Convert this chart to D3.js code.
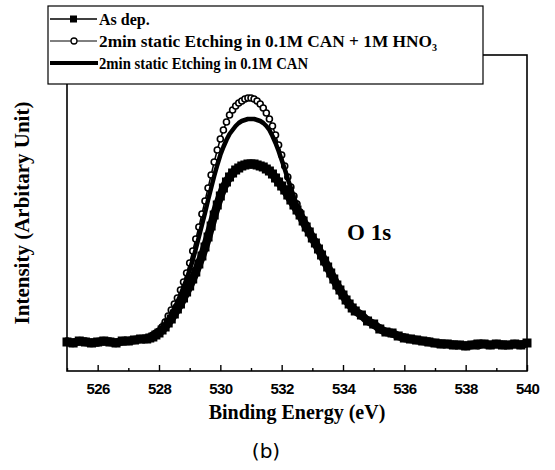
<!DOCTYPE html>
<html>
<head>
<meta charset="utf-8">
<script src="https://cdn.jsdelivr.net/npm/d3@7/dist/d3.min.js"></script>
<style>
  body { margin: 0; background: #fff; }
  svg { display: block; }
  .serif { font-family: "Liberation Serif", "Times New Roman", serif; font-weight: bold; }
</style>
</head>
<body>
<div id="chartContainer"></div>
<script>
// binding energy (eV), coarse on the tails, finer across the peak
var energy = [525.0, 525.2, 525.4, 525.6, 525.8, 526.0, 526.2, 526.4, 526.6, 526.8, 527.0, 527.2, 527.4,
    527.6, 527.7, 527.8, 527.9, 528.0, 528.1, 528.2, 528.3, 528.4, 528.5, 528.6, 528.7, 528.8, 528.9,
    529.0, 529.1, 529.2, 529.3, 529.4, 529.5, 529.6, 529.7, 529.8, 529.9, 530.0, 530.1, 530.2, 530.3,
    530.4, 530.5, 530.6, 530.7, 530.8, 530.9, 531.0, 531.1, 531.2, 531.3, 531.4, 531.5, 531.6, 531.7,
    531.8, 531.9, 532.0, 532.1, 532.2, 532.3, 532.4, 532.5, 532.6, 532.7, 532.8, 532.9, 533.0, 533.1,
    533.2, 533.3, 533.4, 533.5, 533.6, 533.7, 533.8, 533.9, 534.0, 534.1, 534.2, 534.3, 534.4,
    534.6, 534.8, 535.0, 535.2, 535.4, 535.6, 535.8, 536.0, 536.2, 536.4, 536.6, 536.8, 537.0, 537.2,
    537.4, 537.6, 537.8, 538.0, 538.2, 538.4, 538.6, 538.8, 539.0, 539.2, 539.4, 539.6, 539.8, 540.0];

// intensity (arbitrary units)
var asDep = [29, 28, 30, 29, 28, 29, 30, 29, 28, 30, 30, 31, 32,
    32, 33, 34, 36, 38, 41, 44, 48, 52, 57, 62, 67, 73, 79,
    85, 92, 99, 107, 115, 124, 134, 145, 156, 166, 175, 183, 189, 194,
    198, 201, 203, 205, 206, 207, 207, 207, 206, 205, 204, 202, 200, 197,
    193, 189, 185, 181, 176, 171, 166, 161, 156, 150, 144, 139, 133, 128,
    122, 116, 110, 104, 98, 92, 86, 81, 76, 71, 67, 63, 60,
    56, 50, 47, 42, 39, 38, 35, 33, 32, 31, 30, 29, 28, 27,
    27, 26, 26, 25, 26, 27, 27, 26, 27, 26, 26, 27, 26, 28];

var canHno3 = [30, 29, 29, 30, 29, 28, 29, 30, 29, 29, 30, 31, 32,
    33, 34, 36, 38, 40, 44, 49, 55, 61, 67, 73, 81, 89, 98,
    108, 120, 132, 144, 157, 170, 183, 196, 209, 221, 232, 241, 249, 256,
    261, 265, 268, 270, 272, 273, 273, 272, 270, 267, 263, 258, 252, 245,
    236, 226, 216, 205, 194, 184, 175, 167, 159, 152, 146, 140, 134, 129,
    123, 117, 111, 105, 99, 93, 87, 82, 77, 72, 68, 64, 61,
    55, 51, 46, 43, 39, 37, 35, 34, 32, 31, 30, 30, 28, 28,
    27, 27, 26, 26, 26, 25, 27, 26, 27, 27, 26, 27, 27, 28];

var can = [29, 29, 30, 29, 29, 29, 29, 30, 30, 30, 31, 31, 33,
    32, 33, 35, 37, 39, 42, 46, 51, 57, 63, 69, 76, 84, 92,
    101, 111, 122, 134, 146, 158, 171, 183, 195, 206, 216, 224, 231, 237,
    241, 245, 248, 250, 251, 252, 252, 252, 251, 250, 248, 245, 241, 235,
    228, 220, 211, 202, 192, 183, 174, 166, 158, 151, 145, 139, 133, 128,
    122, 116, 110, 104, 98, 92, 86, 81, 76, 71, 67, 63, 60,
    55, 50, 46, 42, 40, 37, 35, 33, 32, 31, 31, 29, 28, 28,
    27, 27, 26, 26, 26, 26, 27, 26, 26, 27, 26, 27, 27, 28];

var legendLabels = ["As dep.", "2min static Etching in 0.1M CAN + 1M HNO", "2min static Etching in 0.1M CAN"];
var majorTicks = [526, 528, 530, 532, 534, 536, 538, 540];
var minorTicks = [525, 527, 529, 531, 533, 535, 537, 539];

var W = 555, H = 470;
var plotL = 67, plotR = 527, plotT = 55, plotB = 371;

var svg = d3.select("#chartContainer").append("svg")
    .attr("width", W).attr("height", H);

var x = d3.scaleLinear().domain([525, 540]).range([plotL, plotR]);
var y = d3.scaleLinear().domain([0, 316]).range([plotB, plotT]);

function pts(vals){
    return energy.map(function(e, i){ return [e, vals[i]]; });
}

var line = d3.line()
    .x(function(d){ return x(d[0]); })
    .y(function(d){ return y(d[1]); });

// frame
svg.append("rect")
    .attr("x", plotL).attr("y", plotT)
    .attr("width", plotR - plotL).attr("height", plotB - plotT)
    .attr("fill", "none").attr("stroke", "#000").attr("stroke-width", 1.6);

// x axis, ticks pointing inward
var gMaj = svg.append("g").attr("transform", "translate(0," + plotB + ")")
    .call(d3.axisBottom(x).tickValues(majorTicks).tickSize(-6).tickPadding(12).tickFormat(d3.format("d")));
var gMin = svg.append("g").attr("transform", "translate(0," + plotB + ")")
    .call(d3.axisBottom(x).tickValues(minorTicks).tickSize(-3).tickFormat(""));
[gMaj, gMin].forEach(function(g){
    g.select(".domain").remove();
    g.selectAll("line").attr("stroke", "#000").attr("stroke-width", 1.4);
});
gMaj.selectAll("text")
    .attr("fill", "#000")
    .style("font-family", "'Liberation Sans', Arial, sans-serif")
    .style("font-weight", "bold")
    .style("font-size", "15px")
    .style("letter-spacing", "-0.6px");

// CAN + HNO3: open circles (underneath, they show where the curves part)
svg.append("path").datum(pts(canHno3))
    .attr("d", line).attr("fill", "none")
    .attr("stroke", "#000").attr("stroke-width", 1.5);
svg.append("g").selectAll("circle").data(pts(canHno3)).enter().append("circle")
    .attr("cx", function(d){ return x(d[0]); })
    .attr("cy", function(d){ return y(d[1]); })
    .attr("r", 3)
    .attr("fill", "#fff").attr("stroke", "#000").attr("stroke-width", 1.6);

// as deposited: filled squares on a heavy line
svg.append("path").datum(pts(asDep))
    .attr("d", line).attr("fill", "none")
    .attr("stroke", "#000").attr("stroke-width", 8.5)
    .attr("stroke-linejoin", "round");
svg.append("g").selectAll("rect").data(pts(asDep)).enter().append("rect")
    .attr("x", function(d){ return x(d[0]) - 4.5; })
    .attr("y", function(d){ return y(d[1]) - 4.5; })
    .attr("width", 9).attr("height", 9)
    .attr("fill", "#000");

// CAN only: thick line
svg.append("path").datum(pts(can))
    .attr("d", line).attr("fill", "none")
    .attr("stroke", "#000").attr("stroke-width", 4.5)
    .attr("stroke-linejoin", "round");

svg.append("text").attr("class", "serif")
    .attr("x", 347).attr("y", 240)
    .style("font-size", "23px")
    .text("O 1s");

// legend box sits on top of the frame
var lg = svg.append("g");
lg.append("rect")
    .attr("x", 48).attr("y", 6).attr("width", 435).attr("height", 78)
    .attr("fill", "#fff").attr("stroke", "#000").attr("stroke-width", 1.2);

var rowY = [19, 41, 63];
var rowSize = [16, 17.3, 16];
lg.append("line").attr("x1", 50).attr("x2", 97).attr("y1", rowY[0]).attr("y2", rowY[0])
    .attr("stroke", "#000").attr("stroke-width", 1.3);
lg.append("rect").attr("x", 70).attr("y", rowY[0] - 3.5).attr("width", 7).attr("height", 7).attr("fill", "#000");
lg.append("line").attr("x1", 50).attr("x2", 97).attr("y1", rowY[1]).attr("y2", rowY[1])
    .attr("stroke", "#000").attr("stroke-width", 1);
lg.append("circle").attr("cx", 74).attr("cy", rowY[1]).attr("r", 3)
    .attr("fill", "#fff").attr("stroke", "#000").attr("stroke-width", 1.3);
lg.append("line").attr("x1", 50).attr("x2", 98).attr("y1", rowY[2]).attr("y2", rowY[2])
    .attr("stroke", "#000").attr("stroke-width", 4);

legendLabels.forEach(function(t, i){
    var tx = lg.append("text").attr("class", "serif")
        .attr("x", 99).attr("y", rowY[i]).attr("dy", "0.35em")
        .style("font-size", rowSize[i] + "px")
        .text(t);
    if(i == 1){
        tx.append("tspan").attr("dy", "4").style("font-size", "10px").text("3");
    }
    if(i == 2){
        // the last row is set tighter in the original
        tx.attr("textLength", 209).attr("lengthAdjust", "spacingAndGlyphs");
    }
});

// axis titles
svg.append("text").attr("class", "serif")
    .attr("x", 297).attr("y", 419).attr("text-anchor", "middle")
    .style("font-size", "20px")
    .text("Binding Energy (eV)");

svg.append("text").attr("class", "serif")
    .attr("transform", "translate(29,213) rotate(-90)")
    .attr("text-anchor", "middle")
    .style("font-size", "21px")
    .text("Intensity (Arbitary Unit)");

svg.append("text")
    .attr("x", 266).attr("y", 458).attr("text-anchor", "middle")
    .style("font-family", "'DejaVu Sans', sans-serif")
    .style("font-size", "20px")
    .text("(b)");
</script>
</body>
</html>
